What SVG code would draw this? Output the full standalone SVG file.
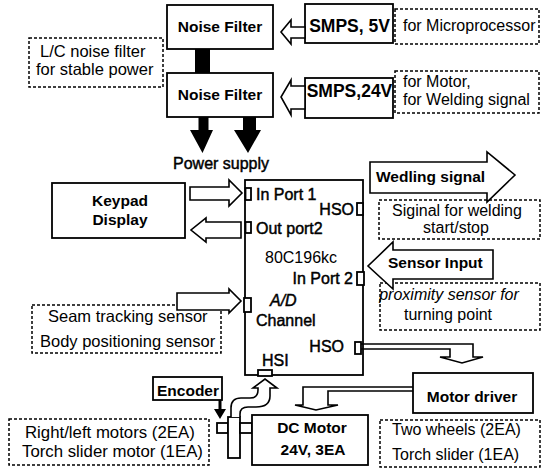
<svg xmlns="http://www.w3.org/2000/svg" width="541" height="472" viewBox="0 0 541 472">
<defs>
<style>
.box{fill:#fff;stroke:#000;stroke-width:1.8}
.dash{fill:none;stroke:#000;stroke-width:1.5;stroke-dasharray:3 2}
.port{fill:#fff;stroke:#000;stroke-width:1.8}
.conn{fill:#fff;stroke:#000;stroke-width:1.6;stroke-linejoin:miter}
.line{fill:none;stroke:#000;stroke-width:1.6}
.blk{fill:#000;stroke:none}
text{font-family:"Liberation Sans",Arial,sans-serif;fill:#000}
.b{font-weight:bold;font-size:15.5px}
.s{font-weight:bold;font-size:17.5px}
.m{font-size:16px;stroke:#000;stroke-width:0.45}
.r{font-size:16px}
.c{text-anchor:middle}
.e{text-anchor:end}
</style>
</defs>
<rect width="541" height="472" fill="#fff"/>

<g id="noise-filter-1">
<rect class="box" x="167" y="5" width="106" height="44"/>
<text class="b c" x="220" y="32">Noise Filter</text>
</g>
<g id="noise-filter-2">
<rect class="box" x="167" y="73" width="106" height="44"/>
<text class="b c" x="220" y="100">Noise Filter</text>
</g>
<g id="smps-5v">
<rect class="box" x="305" y="4" width="88" height="39"/>
<text class="s c" x="349.5" y="32">SMPS, 5V</text>
</g>
<g id="smps-24v">
<rect class="box" x="305" y="78" width="88" height="40"/>
<text class="s c" x="349.5" y="97">SMPS,24V</text>
</g>
<g id="note-microprocessor">
<rect class="dash" x="395" y="9" width="144" height="35"/>
<text class="r" x="403" y="31">for Microprocessor</text>
</g>
<g id="note-motor">
<rect class="dash" x="395" y="71" width="144" height="42"/>
<text class="r" x="403" y="87">for Motor,</text>
<text class="r" x="403" y="105">for Welding signal</text>
</g>
<g id="note-lc">
<rect class="dash" x="29" y="38" width="134" height="49"/>
<text class="r" x="40" y="57" style="font-size:16.5px">L/C noise filter</text>
<text class="r" x="36" y="75" style="font-size:16.5px">for stable power</text>
</g>
<g id="power-supply">
<text class="m" x="173" y="169">Power supply</text>
</g>

<g id="keypad">
<rect class="box" x="52" y="183" width="133" height="55"/>
<text class="b c" x="120" y="206">Keypad</text>
<text class="b c" x="120" y="225">Display</text>
</g>

<g id="mcu">
<rect class="box" x="245" y="180" width="118" height="195"/>
<rect class="port" x="245.5" y="188" width="5.5" height="12"/>
<rect class="port" x="245.5" y="222" width="5.5" height="11"/>
<rect class="port" x="244" y="298" width="7" height="14"/>
<rect class="port" x="357" y="203" width="6" height="12"/>
<rect class="port" x="357" y="272" width="7" height="13"/>
<rect class="port" x="355" y="342" width="6" height="12"/>
<rect class="port" x="258" y="370" width="14" height="6"/>
<text class="m" x="256" y="200">In Port 1</text>
<text class="m e" x="354" y="215">HSO</text>
<text class="m" x="256" y="234">Out port2</text>
<text class="r" x="265" y="263">80C196kc</text>
<text class="m e" x="353" y="284">In Port 2</text>
<text class="m" x="270" y="306" font-style="italic">A/D</text>
<text class="m" x="256" y="326">Channel</text>
<text class="m e" x="344" y="352">HSO</text>
<text class="m" x="262" y="366">HSI</text>
</g>

<g id="note-welding">
<rect class="dash" x="379" y="200" width="161" height="39"/>
<text class="r c" x="457" y="216">Siginal for welding</text>
<text class="r c" x="456" y="233">start/stop</text>
</g>
<g id="note-proximity">
<rect class="dash" x="380" y="283" width="160" height="47"/>
<text class="r c" x="449" y="300" font-style="italic">proximity sensor for</text>
<text class="r c" x="448" y="320">turning point</text>
</g>
<g id="wedling-signal">
<path class="conn" d="M370,162 H487 V152 L515,175 L487,202 V193 H370 Z"/>
<text class="b" x="376" y="182">Wedling signal</text>
</g>
<g id="sensor-input">
<path class="conn" d="M493,250 H393 V242 L368,266 L393,289 V279 H493 Z"/>
<text class="b" x="388" y="268">Sensor Input</text>
</g>
<g id="note-sensors">
<rect class="dash" x="32" y="305" width="189" height="48"/>
<text class="r" x="48" y="322" style="font-size:16.5px">Seam tracking sensor</text>
<text class="r" x="40" y="347" style="font-size:16.5px">Body positioning sensor</text>
</g>

<g id="encoder">
<rect class="box" x="153" y="377" width="69" height="23"/>
<text class="b c" x="188" y="396">Encoder</text>
</g>
<g id="motor-driver">
<rect class="box" x="413" y="373" width="120" height="40"/>
<text class="b c" x="472" y="402">Motor driver</text>
</g>
<g id="dc-motor">
<rect class="box" x="217" y="423" width="11" height="10"/>
<rect class="box" x="228" y="417" width="12" height="41"/>
<rect class="box" x="240" y="423" width="12" height="10"/>
<rect class="box" x="252" y="415" width="116" height="50"/>
<text class="b c" x="312" y="433">DC Motor</text>
<text class="b c" x="313" y="455">24V, 3EA</text>
</g>
<g id="note-motors">
<rect class="dash" x="9" y="419" width="200" height="46"/>
<text class="r" x="25" y="438" style="font-size:16.8px">Right/left motors (2EA)</text>
<text class="r" x="22" y="457" style="font-size:16.8px">Torch slider motor (1EA)</text>
</g>
<g id="note-wheels">
<rect class="dash" x="380" y="420" width="160" height="47"/>
<text class="r" x="392" y="435">Two wheels (2EA)</text>
<text class="r" x="392" y="460">Torch slider (1EA)</text>
</g>

<g id="connectors">
<path class="conn" d="M305,27 H291 V20 L281,32 L291,44 V38 H305 Z"/>
<path class="conn" d="M305,86 H291 V80 L281,97 L291,115 V109 H305 Z"/>
<rect class="blk" x="195" y="49" width="15" height="24"/>
<path class="blk" d="M198.5,117 H208.5 V130 H213 L202.5,153 L190,130 H198.5 Z"/>
<path class="blk" d="M243,117 H256 V130 H261 L248,153 L234,130 H243 Z"/>
<path class="conn" d="M190,187 H229 V180 L242,193 L229,206 V200 H190 Z"/>
<path class="conn" d="M241,222 H206 V218 L191,230 L206,242 V238 H241 Z"/>
<path class="conn" d="M177,293 H229 V289 L241,301 L229,313 V310 H177 Z"/>
<path class="line" d="M361,344 H473 V357 H483 L462,363 L440,357 H450 V349 H361"/>
<path class="line" d="M413,387 H303 V405 H295 L316,410 L338,405 H328 V391 H413"/>
<path class="blk" d="M218.5,400 H221.5 V409 H226 L220,419 L214,409 H218.5 Z"/>
<path class="conn" d="M231,417 V408 Q231,398 241,398 H250 Q258,398 258,390 V388 H253 L265,379 L277,388 H270 V396 Q270,407 256,407 H248 Q240,407 240,414 V417"/>
</g>
</svg>
